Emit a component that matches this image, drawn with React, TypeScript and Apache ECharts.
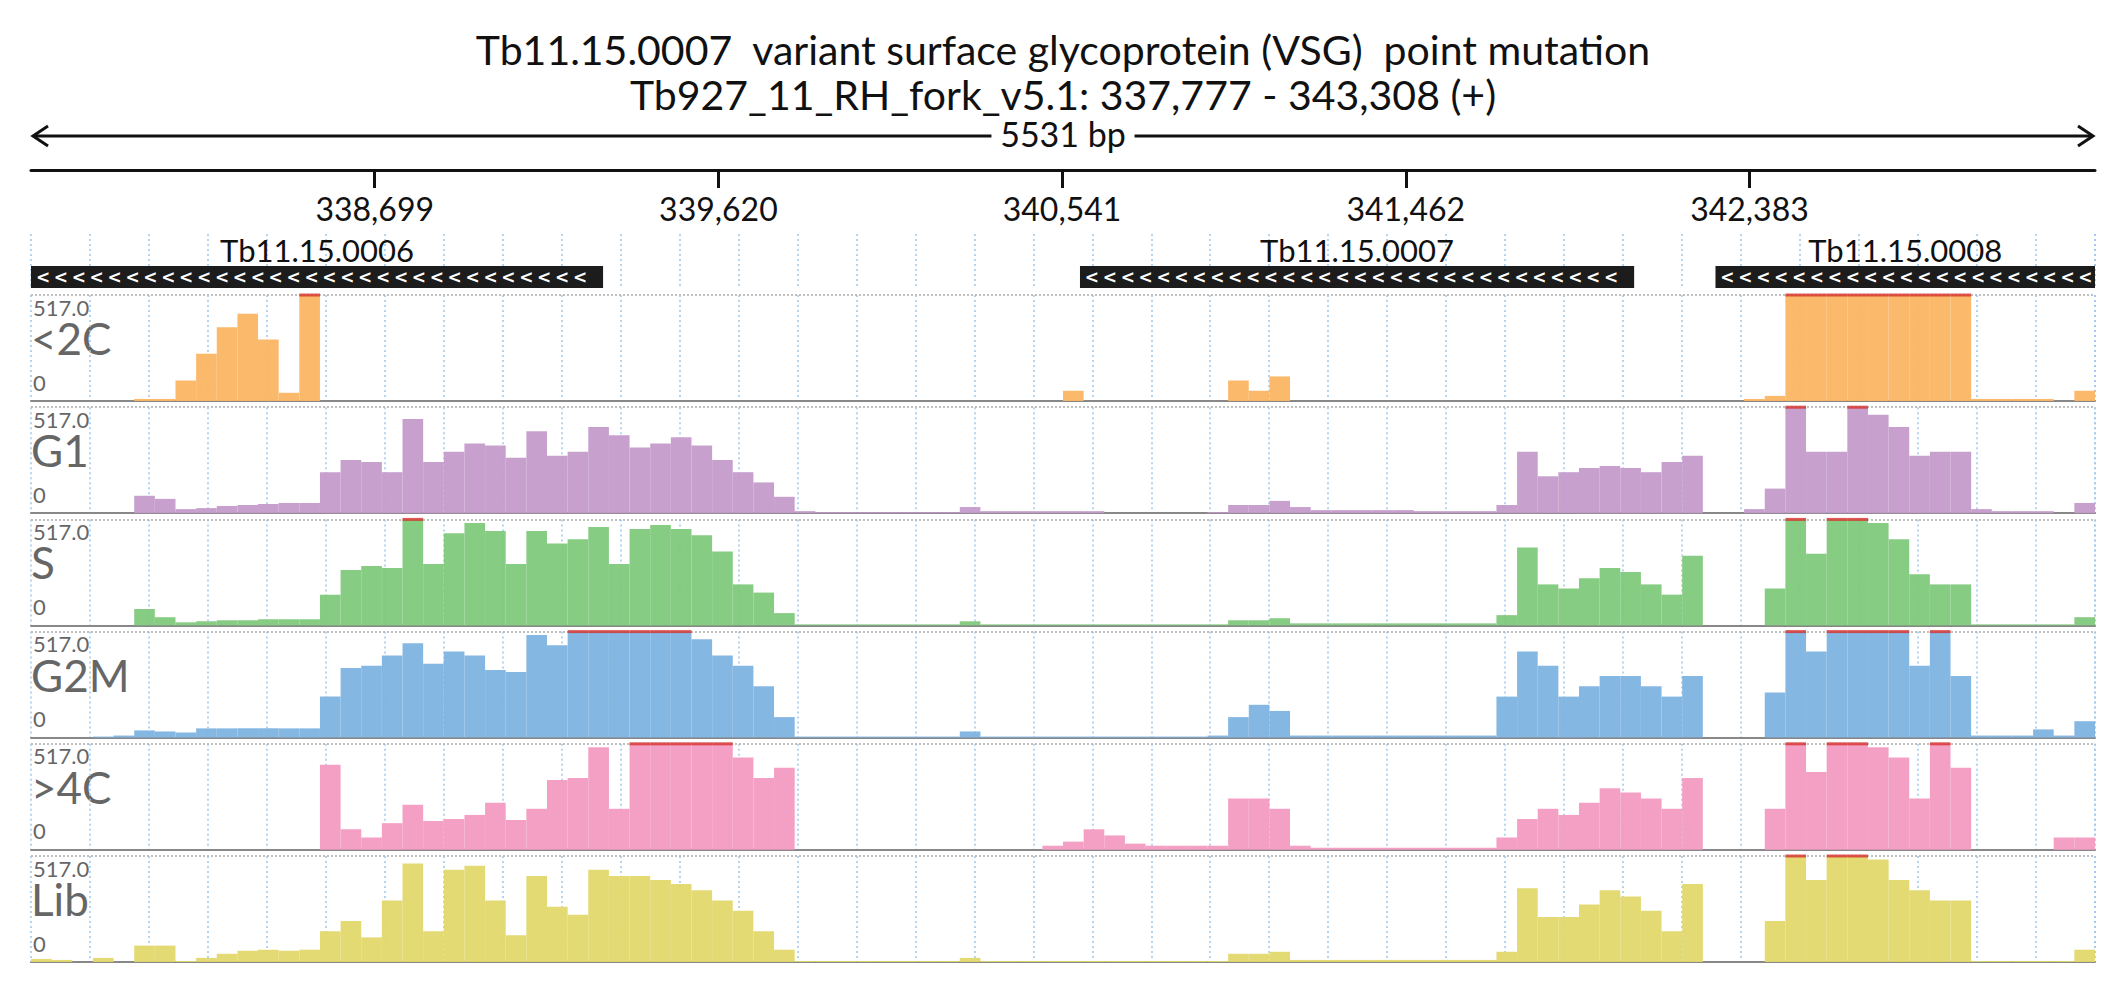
import React, { useEffect, useRef } from "react";
import * as echarts from "echarts";

const START = 337777;
const LENGTH = 5531;
const MAX = 517;

const bins = Array.from({ length: 100 }, (_, i) => String(i));
const tickOffsets = [921, 1842, 2763, 3684, 4605];

const trackNames = ["<2C", "G1", "S", "G2M", ">4C", "Lib"];
const trackColors = ["#FBB563", "#C49BCB", "#80C97B", "#7EB3E1", "#F39BC2", "#E1D86C"];

const lt2c = [
  0, 0, 0, 0, 0, 10, 10, 100, 230, 360,
  425, 300, 40, 517, 0, 0, 0, 0, 0, 0,
  0, 0, 0, 0, 0, 0, 0, 0, 0, 0,
  0, 0, 0, 0, 0, 0, 0, 0, 0, 0,
  0, 0, 0, 0, 0, 0, 0, 0, 0, 0,
  50, 0, 0, 0, 0, 0, 0, 0, 100, 50,
  120, 0, 0, 0, 0, 0, 0, 0, 0, 0,
  0, 0, 0, 0, 0, 0, 0, 0, 0, 0,
  0, 0, 0, 10, 25, 517, 517, 517, 517, 517,
  517, 517, 517, 517, 10, 10, 10, 10, 0, 50,
];
const g1 = [
  0, 0, 0, 0, 0, 85, 70, 20, 25, 35,
  40, 45, 50, 50, 200, 260, 250, 200, 460, 250,
  300, 340, 330, 270, 400, 280, 300, 420, 380, 320,
  340, 370, 330, 260, 200, 150, 80, 10, 5, 5,
  5, 5, 5, 5, 5, 30, 10, 10, 10, 10,
  10, 10, 0, 0, 0, 0, 0, 5, 40, 40,
  60, 30, 15, 15, 15, 15, 15, 10, 10, 10,
  10, 40, 300, 180, 200, 220, 230, 220, 200, 250,
  280, 0, 0, 20, 120, 517, 300, 300, 517, 480,
  420, 280, 300, 300, 20, 10, 10, 10, 0, 50,
];
const s = [
  0, 0, 0, 0, 0, 80, 40, 15, 20, 25,
  25, 30, 30, 30, 150, 270, 290, 280, 517, 300,
  450, 500, 460, 300, 460, 400, 420, 480, 300, 470,
  490, 470, 440, 360, 200, 160, 60, 5, 5, 5,
  5, 5, 5, 5, 5, 20, 5, 5, 5, 5,
  5, 5, 5, 5, 5, 5, 5, 5, 25, 25,
  35, 10, 10, 10, 10, 10, 10, 10, 10, 10,
  10, 50, 380, 200, 180, 230, 280, 260, 200, 150,
  340, 0, 0, 0, 180, 517, 350, 517, 517, 500,
  420, 250, 200, 200, 5, 5, 5, 5, 5, 40,
];
const g2m = [
  0, 0, 0, 5, 10, 35, 30, 25, 45, 45,
  45, 45, 45, 45, 200, 340, 350, 400, 460, 360,
  420, 400, 330, 320, 500, 450, 517, 517, 517, 517,
  517, 517, 480, 400, 350, 250, 100, 5, 5, 5,
  5, 5, 5, 5, 5, 30, 5, 5, 5, 5,
  5, 5, 5, 5, 5, 5, 5, 10, 100, 160,
  130, 10, 10, 10, 10, 10, 10, 10, 10, 10,
  10, 200, 420, 350, 200, 250, 300, 300, 250, 200,
  300, 0, 0, 0, 220, 517, 420, 517, 517, 517,
  517, 350, 517, 300, 10, 10, 10, 40, 10, 80,
];
const gt4c = [
  0, 0, 0, 0, 0, 0, 0, 0, 0, 0,
  0, 0, 0, 0, 415, 100, 60, 130, 220, 140,
  150, 170, 230, 145, 200, 340, 350, 500, 200, 517,
  517, 517, 517, 517, 450, 350, 400, 0, 0, 0,
  0, 0, 0, 0, 0, 0, 0, 0, 0, 20,
  40, 100, 70, 30, 20, 20, 20, 20, 250, 250,
  200, 20, 10, 10, 10, 10, 10, 10, 10, 10,
  10, 60, 150, 200, 170, 230, 300, 280, 250, 200,
  350, 0, 0, 0, 200, 517, 380, 517, 517, 500,
  450, 250, 517, 400, 0, 0, 0, 0, 60, 60,
];
const lib = [
  15, 10, 0, 20, 0, 80, 80, 5, 20, 40,
  55, 60, 55, 60, 150, 200, 120, 300, 480, 150,
  450, 470, 300, 130, 420, 270, 230, 450, 420, 420,
  400, 380, 350, 300, 250, 150, 60, 5, 5, 5,
  5, 5, 5, 5, 5, 20, 5, 5, 5, 5,
  5, 5, 5, 5, 5, 5, 5, 5, 40, 40,
  50, 10, 10, 10, 10, 10, 10, 10, 10, 10,
  10, 50, 360, 220, 220, 280, 350, 320, 250, 150,
  380, 0, 0, 0, 200, 517, 400, 517, 517, 500,
  400, 350, 300, 300, 5, 5, 5, 5, 5, 60,
];
const trackValues = [lt2c, g1, s, g2m, gt4c, lib];

// genes as offsets from START
const geneNames = ["Tb11.15.0006", "Tb11.15.0007", "Tb11.15.0008"];
const geneStarts = [0, 2811, 4514];
const geneEnds = [1533, 4296, 5531];

const LEFT = 31;
const RIGHT = 31;
const TRACK_TOP = 295;
const TRACK_STEP = 112.2;
const TRACK_H = 106;

const gridLine = { show: true, lineStyle: { color: "#9cc8ee", type: [2, 3] as any, width: 1.5 } };

export default function App() {
  const ref = useRef<HTMLDivElement>(null);

  useEffect(() => {
    if (!ref.current) return;
    const chart = echarts.init(ref.current, null, { renderer: "svg" });

    const grids: any[] = [
      { left: LEFT, right: RIGHT, top: 169, height: 1 },
      { left: LEFT, right: RIGHT, top: 234, height: 54 },
    ];
    const xAxes: any[] = [
      {
        type: "value", gridIndex: 0, min: 0, max: LENGTH,
        axisLine: { lineStyle: { color: "#111", width: 3 } },
        axisTick: { length: 18, customValues: tickOffsets, lineStyle: { color: "#111", width: 3 } },
        axisLabel: {
          margin: 22, fontSize: 32, color: "#111", fontFamily: "Lato", customValues: tickOffsets,
          formatter: (v: number) => (START + 1 + v).toLocaleString("en-US"),
        },
        splitLine: { show: false },
      },
      {
        type: "value", gridIndex: 1, min: 0, max: LENGTH, interval: 158,
        axisLine: { show: false }, axisTick: { show: false }, axisLabel: { show: false },
        splitLine: gridLine,
      },
    ];
    const yAxes: any[] = [
      { type: "value", gridIndex: 0, show: false },
      { type: "value", gridIndex: 1, min: 0, max: 1, show: false },
    ];
    const series: any[] = [
      {
        type: "custom", xAxisIndex: 1, yAxisIndex: 1,
        data: geneNames.map((_, i) => [geneStarts[i], geneEnds[i]]),
        renderItem: (params: any, api: any) => {
          const a = api.coord([api.value(0), 0]);
          const b = api.coord([api.value(1), 0]);
          const x0 = a[0], x1 = b[0], y1 = a[1];
          const children: any[] = [
            { type: "rect", shape: { x: x0, y: y1 - 22, width: x1 - x0, height: 22 }, style: { fill: "#1c1c1c" } },
            {
              type: "text",
              style: {
                text: geneNames[params.dataIndex], x: (x0 + x1) / 2, y: y1 - 38,
                align: "center", verticalAlign: "middle", fontSize: 31, fontFamily: "Lato", fill: "#111",
              },
            },
          ];
          for (let cx = x0 + 12; cx < x1 - 6; cx += 17.9) {
            children.push({
              type: "text",
              style: {
                text: "<", x: cx, y: y1 - 11, align: "center", verticalAlign: "middle",
                fontSize: 17, fontWeight: "bold", fontFamily: "DejaVu Sans", fill: "#fff",
              },
            });
          }
          return { type: "group", children };
        },
      },
    ];
    const graphics: any[] = [];

    trackValues.forEach((vals, k) => {
      const top = TRACK_TOP + TRACK_STEP * k;
      const g = grids.length;
      grids.push({ left: LEFT, right: RIGHT, top, height: TRACK_H });
      const xCat = xAxes.length;
      xAxes.push({
        type: "category", gridIndex: g, data: bins,
        axisLine: { lineStyle: { color: "#888", width: 2 } },
        axisTick: { show: false }, axisLabel: { show: false },
      });
      xAxes.push({
        type: "value", gridIndex: g, min: 0, max: LENGTH, interval: 158,
        axisLine: { show: false }, axisTick: { show: false }, axisLabel: { show: false },
        splitLine: gridLine,
      });
      const yi = yAxes.length;
      yAxes.push({
        type: "value", gridIndex: g, min: 0, max: MAX, interval: MAX,
        axisLine: { show: false }, axisTick: { show: false }, axisLabel: { show: false },
        splitLine: { show: true, lineStyle: { color: "#aaa", type: [2, 2] as any, width: 1.5 } },
      });
      series.push({
        type: "bar", xAxisIndex: xCat, yAxisIndex: yi, data: vals.map((v) => Math.min(v, MAX)),
        barCategoryGap: "0%", itemStyle: { color: trackColors[k], opacity: 0.95 },
      });
      series.push({
        type: "scatter", xAxisIndex: xCat, yAxisIndex: yi, symbol: "rect",
        symbolSize: [2065 / bins.length, 3], itemStyle: { color: "#d7302a" },
        data: vals.map((v) => (v >= MAX ? MAX : "-")),
      });
      graphics.push(
        { type: "text", left: 33, top: top + 1, style: { text: "517.0", fontSize: 22, fill: "#666", fontFamily: "Lato" } },
        { type: "text", left: 31, top: top + 21, style: { text: trackNames[k], fontSize: 44, fill: "#666", fontFamily: "Lato" } },
        { type: "text", left: 33, top: top + TRACK_H - 30, style: { text: "0", fontSize: 22, fill: "#666", fontFamily: "Lato" } },
      );
    });

    // span arrow
    graphics.push(
      { type: "line", shape: { x1: 33, y1: 136, x2: 2093, y2: 136 }, style: { stroke: "#111", lineWidth: 3 } },
      { type: "polyline", shape: { points: [[48, 126], [33, 136], [48, 146]] }, style: { stroke: "#111", lineWidth: 3, fill: null } },
      { type: "polyline", shape: { points: [[2078, 126], [2093, 136], [2078, 146]] }, style: { stroke: "#111", lineWidth: 3, fill: null } },
      {
        type: "text", left: "center", top: 116,
        style: { text: " 5531 bp ", fontSize: 34, fill: "#111", fontFamily: "Lato", backgroundColor: "#fff" },
      },
    );

    chart.setOption({
      animation: false,
      backgroundColor: "#fff",
      title: {
        left: "center", top: 22,
        text: "Tb11.15.0007  variant surface glycoprotein (VSG)  point mutation\nTb927_11_RH_fork_v5.1: 337,777 - 343,308 (+)",
        textStyle: { fontSize: 41, fontWeight: "normal", color: "#111", fontFamily: "Lato", lineHeight: 45 },
      },
      grid: grids,
      xAxis: xAxes,
      yAxis: yAxes,
      series,
      graphic: graphics,
    });

    return () => chart.dispose();
  }, []);

  return <div ref={ref} style={{ position: "fixed", left: 0, top: 0, width: 2126, height: 1000 }} />;
}
